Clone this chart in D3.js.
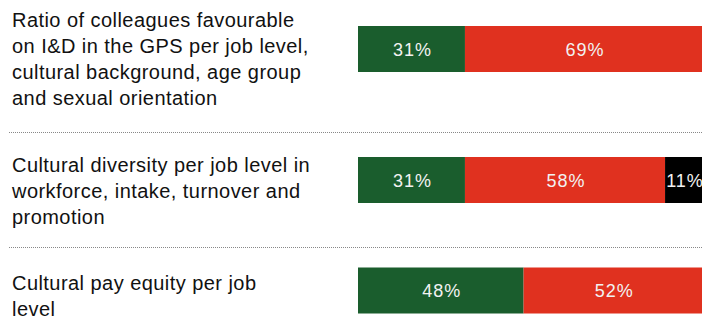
<!DOCTYPE html>
<meta charset="utf-8">
<style>

body {
  margin: 0;
  background: #fff;
}

.title {
  font-family: "Liberation Sans", Arial, sans-serif;
  font-size: 20px;
  letter-spacing: 0.45px;
  fill: #111;
}

.pct {
  font-family: "Liberation Sans", Arial, sans-serif;
  font-size: 18px;
  letter-spacing: 1px;
  fill: #f2f2f2;
  text-anchor: middle;
}

.sep {
  stroke: #888;
  stroke-width: 1px;
  stroke-dasharray: 1,1;
}

</style>
<body>
<script src="https://d3js.org/d3.v7.min.js"></script>
<script>

var categories = [
  ["Ratio of colleagues favourable", "on I&D in the GPS per job level,", "cultural background, age group", "and sexual orientation"],
  ["Cultural diversity per job level in", "workforce, intake, turnover and", "promotion"],
  ["Cultural pay equity per job", "level"]
];
var favourable = [31, 31, 48];
var unfavourable = [69, 58, 52];
var other = [0, 11, 0];
var seriesKeys = ["favourable", "unfavourable", "other"];
var seriesColors = ["#1a5d2d", "#e0311f", "#000000"];

var width = 702,
    height = 334;

var rows = categories.map(function(c, i) {
  return {id: i, lines: c, favourable: favourable[i], unfavourable: unfavourable[i], other: other[i]};
});

var x = d3.scaleLinear().domain([0, 100]).range([358, 703]);

// rows are not evenly spaced in the original, so map each row to its bar centre
var y = d3.scaleOrdinal().domain([0, 1, 2]).range([49, 180, 290.5]);
var titleY = d3.scaleOrdinal().domain([0, 1, 2]).range([27, 172, 290]);
var sepY = [132.5, 247.5];
var barH = 46, lineH = 26;

var color = d3.scaleOrdinal().domain(seriesKeys).range(seriesColors);

var stack = d3.stack().keys(seriesKeys);
var series = stack(rows);

var svg = d3.select("body").append("svg")
    .attr("width", width)
    .attr("height", height)
    .style("display", "block");

svg.selectAll(".sep")
    .data(sepY).enter()
    .append("line")
    .attr("class", "sep")
    .attr("x1", 9)
    .attr("x2", width)
    .attr("y1", function(d) { return d; })
    .attr("y2", function(d) { return d; });

svg.selectAll(".title")
    .data(rows).enter()
    .append("text")
    .attr("class", "title")
    .attr("x", 12)
    .attr("y", function(d) { return titleY(d.id); })
    .selectAll("tspan")
    .data(function(d) { return d.lines; }).enter()
    .append("tspan")
    .attr("x", 12)
    .attr("dy", function(d, i) { return i ? lineH : 0; })
    .text(function(d) { return d; });

var layer = svg.selectAll(".layer")
    .data(series).enter()
    .append("g")
    .attr("class", "layer")
    .attr("fill", function(d) { return color(d.key); });

layer.selectAll("rect")
    .data(function(d) { return d.filter(function(s) { return s[1] > s[0]; }); }).enter()
    .append("rect")
    .attr("x", function(d) { return x(d[0]); })
    .attr("width", function(d) { return x(d[1]) - x(d[0]); })
    .attr("y", function(d) { return y(d.data.id) - barH / 2; })
    .attr("height", barH);

layer.selectAll(".pct")
    .data(function(d) { return d.filter(function(s) { return s[1] > s[0]; }); }).enter()
    .append("text")
    .attr("class", "pct")
    .attr("x", function(d) { return (x(d[0]) + x(d[1])) / 2 + 1; })
    .attr("y", function(d) { return y(d.data.id) + 6.5; })
    .text(function(d) { return (d[1] - d[0]) + "%"; });

</script>
</body>
